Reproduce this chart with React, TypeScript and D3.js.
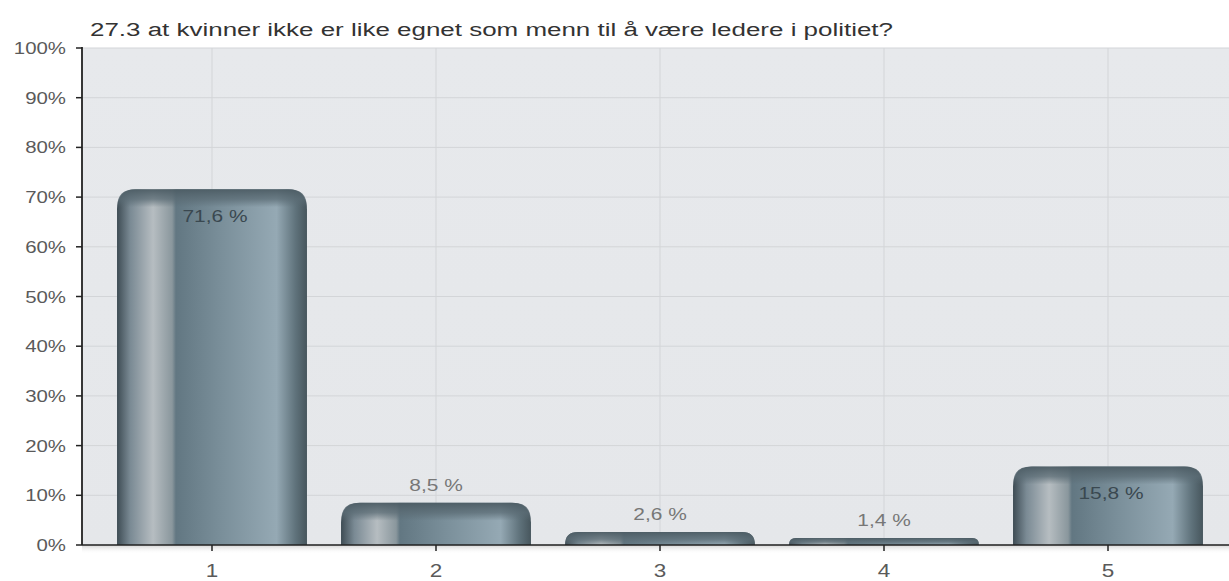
import React from "react";
import * as d3 from "d3";

const title = "27.3 at kvinner ikke er like egnet som menn til å være ledere i politiet?";
const categories = ["1", "2", "3", "4", "5"];
const values = [71.6, 8.5, 2.6, 1.4, 15.8];
const valueLabels = ["71,6 %", "8,5 %", "2,6 %", "1,4 %", "15,8 %"];
const yTicks = [0, 10, 20, 30, 40, 50, 60, 70, 80, 90, 100];

const W = 1229;
const H = 581;
const plotLeft = 82;
const plotRight = 1229;
const plotTop = 48;
const plotBottom = 545;

function SText(props: { x: number; y: number; sx: number; anchor: string; size: number; fill: string; children: React.ReactNode }) {
  return (
    <text
      transform={`translate(${props.x},${props.y}) scale(${props.sx},1)`}
      textAnchor={props.anchor as any}
      fontSize={props.size}
      fill={props.fill}
    >
      {props.children}
    </text>
  );
}

export default function App() {
  const xb = d3.scaleBand<string>().domain(categories).range([100, 1220]).paddingInner(0.152).paddingOuter(0.076);
  const y = d3.scaleLinear().domain([0, 100]).range([plotBottom, plotTop]);
  const bw = xb.bandwidth();

  const barPath = (x0: number, y0: number, w: number, h: number) => {
    const r = Math.min(20, h, w / 2);
    return `M${x0},${y0 + h} L${x0},${y0 + r} Q${x0},${y0} ${x0 + r},${y0} L${x0 + w - r},${y0} Q${x0 + w},${y0} ${x0 + w},${y0 + r} L${x0 + w},${y0 + h} Z`;
  };

  return (
    <svg width={W} height={H} style={{ position: "absolute", left: 0, top: 0, background: "#fff", fontFamily: "Liberation Sans, Arial, sans-serif" }}>
      <defs>
        <linearGradient id="bg" x1="0" y1="0" x2="0" y2="1">
          <stop offset="0" stopColor="#e7e9ec" />
          <stop offset="1" stopColor="#e5e7ea" />
        </linearGradient>
        <linearGradient id="barG" x1="0" y1="0" x2="1" y2="0">
          <stop offset="0" stopColor="#3e4c54" />
          <stop offset="0.07" stopColor="#7a8a94" />
          <stop offset="0.19" stopColor="#b6bdc1" />
          <stop offset="0.29" stopColor="#8a979d" />
          <stop offset="0.31" stopColor="#627782" />
          <stop offset="0.55" stopColor="#7a8f9a" />
          <stop offset="0.84" stopColor="#95a9b4" />
          <stop offset="0.94" stopColor="#5f727b" />
          <stop offset="1" stopColor="#47565d" />
        </linearGradient>
        <linearGradient id="capG" x1="0" y1="0" x2="0" y2="1">
          <stop offset="0" stopColor="#4c5c64" stopOpacity="0.95" />
          <stop offset="0.55" stopColor="#5a6b74" stopOpacity="0.75" />
          <stop offset="1" stopColor="#5a6b74" stopOpacity="0" />
        </linearGradient>
        <linearGradient id="shadow" x1="0" y1="0" x2="0" y2="1">
          <stop offset="0" stopColor="#d4d4d4" />
          <stop offset="1" stopColor="#ffffff" stopOpacity="0" />
        </linearGradient>
      </defs>

      <text x={90} y={36} fontSize={18} fill="#333" textLength={803} lengthAdjust="spacingAndGlyphs">{title}</text>

      <rect x={plotLeft} y={plotBottom} width={plotRight - plotLeft} height={9} fill="url(#shadow)" />
      <rect x={plotLeft} y={plotTop} width={plotRight - plotLeft} height={plotBottom - plotTop} fill="url(#bg)" />

      {yTicks.map((t) => (
        <line key={"gy" + t} x1={plotLeft} x2={plotRight} y1={y(t)} y2={y(t)} stroke="#d3d5d8" strokeWidth={1} />
      ))}
      {categories.map((c) => {
        const cx = (xb(c) as number) + bw / 2;
        return <line key={"gx" + c} x1={cx} x2={cx} y1={plotTop} y2={plotBottom} stroke="#d3d5d8" strokeWidth={1} />;
      })}

      {categories.map((c, i) => {
        const x0 = xb(c) as number;
        const y0 = y(values[i]);
        const h = plotBottom - y0;
        const capH = Math.min(18, h);
        return (
          <g key={"b" + c}>
            <path d={barPath(x0, y0, bw, h)} fill="url(#barG)" />
            <path d={barPath(x0, y0, bw, capH)} fill="url(#capG)" />
          </g>
        );
      })}

      {categories.map((c, i) => {
        const cx = (xb(c) as number) + bw / 2;
        const inside = values[i] > 10;
        const ty = inside ? y(values[i]) + 33 : y(values[i]) - 12;
        return (
          <SText key={"l" + c} x={inside ? cx + 3 : cx} y={ty} sx={1.23} anchor="middle" size={17} fill={inside ? "#3a4850" : "#777"}>
            {valueLabels[i]}
          </SText>
        );
      })}

      <line x1={plotLeft} x2={plotLeft} y1={plotTop - 1} y2={plotBottom} stroke="#222" strokeWidth={1.8} />
      <line x1={plotLeft} x2={plotRight} y1={plotBottom} y2={plotBottom} stroke="#222" strokeWidth={1.5} />
      {yTicks.map((t) => (
        <g key={"ty" + t}>
          <line x1={plotLeft - 6} x2={plotLeft} y1={y(t)} y2={y(t)} stroke="#222" strokeWidth={1.5} />
          <SText x={66} y={y(t) + 6} sx={1.2} anchor="end" size={17} fill="#5a5a5a">{t}%</SText>
        </g>
      ))}
      {categories.map((c) => {
        const cx = (xb(c) as number) + bw / 2;
        return (
          <g key={"tx" + c}>
            <line x1={cx} x2={cx} y1={plotBottom} y2={plotBottom + 6} stroke="#222" strokeWidth={1.5} />
            <SText x={cx} y={577} sx={1.25} anchor="middle" size={18} fill="#5a5a5a">{c}</SText>
          </g>
        );
      })}
    </svg>
  );
}
